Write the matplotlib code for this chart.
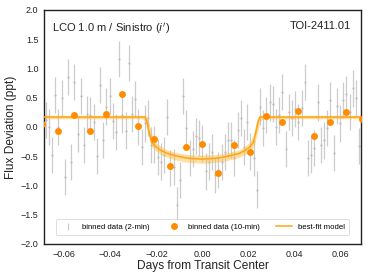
import numpy as np
import matplotlib
matplotlib.use("Agg")
import matplotlib.pyplot as plt

plt.rcParams['font.family'] = ['Liberation Sans', 'DejaVu Sans']
plt.rcParams['axes.unicode_minus'] = True

# ---------------- data ----------------
cadence_2min = 2.0 / 1440.0
cadence_10min = 10.0 / 1440.0
t_2min = np.arange(-50, 50) * cadence_2min
flux_2min = [
    0.05, 0.12, 0.00, -0.48, 0.55, 0.00, 0.49, -0.85, 0.85, -0.60,
    0.77, -0.12, 0.53, -0.31, 0.22, 0.20, 0.09, -0.49, 0.72, -0.22,
    0.35, 0.53, 0.10, -0.08, 1.16, 0.20, -0.06, 1.09, 0.22, 0.48,
    0.00, -0.34, 0.06, 0.15, -0.31, -0.30, -0.51, -0.59, -0.48, 0.17,
    -0.70, -0.69, -1.34, -0.90, 0.53, -0.02, -0.53, -0.38, -0.15, -0.19,
    -0.28, -0.76, -0.59, -0.43, -0.82, -0.73, -0.60, -0.43, -0.22, -0.22,
    -0.53, -0.05, 0.15, -0.34, 0.09, -0.42, -0.53, -1.07, 0.35, -0.02,
    0.20, 0.42, 0.39, 0.00, 0.20, 0.60, -0.38, 0.26, 0.15, 0.31,
    0.09, 0.32, 0.77, -0.53, -0.48, -0.36, 0.42, -0.31, -0.23, -0.02,
    0.46, -0.45, 0.36, 0.06, 0.46, 0.56, 0.26, 0.66, 0.49, -0.32,
]
err_2min = 0.31

t_10min = np.arange(-10, 11) * cadence_10min
flux_10min = [0.05, -0.06, 0.20, -0.06, 0.23, 0.56, 0.02, -0.21, -0.66, -0.34,
              -0.29, -0.78, -0.30, -0.42, 0.18, 0.09, 0.27, -0.15, 0.09, 0.26, 0.13]

model_t = [-0.069, -0.0262, -0.0250, -0.0243, -0.0235, -0.0228, -0.0220, -0.0205,
           -0.0185, -0.0160, -0.0120, -0.0070, 0.0000, 0.0070, 0.0120, 0.0160,
           0.0185, 0.0205, 0.0220, 0.0228, 0.0235, 0.0243, 0.0250, 0.0262, 0.069]
model_flux = [0.17, 0.17, 0.17, 0.12, -0.02, -0.15, -0.26, -0.33, -0.39, -0.44,
              -0.49, -0.53, -0.55, -0.53, -0.49, -0.45, -0.40, -0.34, -0.27, -0.16,
              -0.03, 0.11, 0.17, 0.17, 0.17]
model_upper = [0.20, 0.20, 0.20, 0.19, 0.12, 0.00, -0.13, -0.25, -0.32, -0.38,
               -0.43, -0.47, -0.48, -0.47, -0.43, -0.39, -0.33, -0.26, -0.14, 0.00,
               0.12, 0.19, 0.20, 0.20, 0.20]
model_lower = [0.14, 0.14, 0.10, -0.02, -0.15, -0.26, -0.34, -0.40, -0.46, -0.51,
               -0.56, -0.60, -0.62, -0.60, -0.56, -0.52, -0.47, -0.41, -0.35, -0.27,
               -0.16, -0.03, 0.10, 0.14, 0.14]

x_ticks = [-0.06, -0.04, -0.02, 0.00, 0.02, 0.04, 0.06]
y_ticks = [-2.0, -1.5, -1.0, -0.5, 0.0, 0.5, 1.0, 1.5, 2.0]

# ---------------- figure ----------------
fig = plt.figure(figsize=(3.74, 2.80), dpi=100)
ax = fig.add_axes([0.1176, 0.1286, 0.8476, 0.8357])

ax.errorbar(t_2min, flux_2min, yerr=err_2min, fmt='none',
            ecolor='0.80', elinewidth=0.9, zorder=1,
            label='binned data (2-min)')
ax.plot(t_2min, flux_2min, '.', ms=1.0, color='0.72', zorder=1.1)
ax.fill_between(model_t, model_lower, model_upper, color='#ffb732', alpha=0.45,
                lw=0, zorder=2)
ax.plot(model_t, model_flux, color='#ffa515', lw=1.1, zorder=3,
        label='best-fit model')
ax.plot(t_10min, flux_10min, 'o', color='#ff8c00', ms=5.0, mec='none', zorder=4,
        label='binned data (10-min)')

ax.set_xlim(-0.0688, 0.0688)
ax.set_ylim(-2.0, 2.0)
ax.set_xticks(x_ticks)
ax.set_yticks(y_ticks)
ax.tick_params(length=0, labelsize=6.5, pad=4, colors='#222222')
for s in ax.spines.values():
    s.set_color('#222222')
    s.set_linewidth(1.0)

ax.set_xlabel('Days from Transit Center', fontsize=8.6, labelpad=1, color='#222222')
ax.set_ylabel('Flux Deviation (ppt)', fontsize=8.6, labelpad=3, color='#222222')

ax.text(0.025, 0.955, "LCO 1.0 m / Sinistro ($i'$)", transform=ax.transAxes,
        fontsize=8.0, ha='left', va='top', color='#222222')
ax.text(0.97, 0.955, "TOI-2411.01", transform=ax.transAxes,
        fontsize=8.0, ha='right', va='top', color='#222222')

h, l = ax.get_legend_handles_labels()
order = [l.index('binned data (2-min)'), l.index('binned data (10-min)'), l.index('best-fit model')]
leg = ax.legend([h[i] for i in order], [l[i] for i in order], ncol=3,
                loc='lower left', bbox_to_anchor=(0.025, 0.02, 0.95, 0.06),
                mode='expand', fontsize=5.6, frameon=True, fancybox=True,
                handlelength=2.0, borderpad=0.55, handletextpad=0.8)
leg.get_frame().set_edgecolor('#d0d0d0')
leg.get_frame().set_linewidth(0.6)

fig.savefig('out.png', dpi=100)
